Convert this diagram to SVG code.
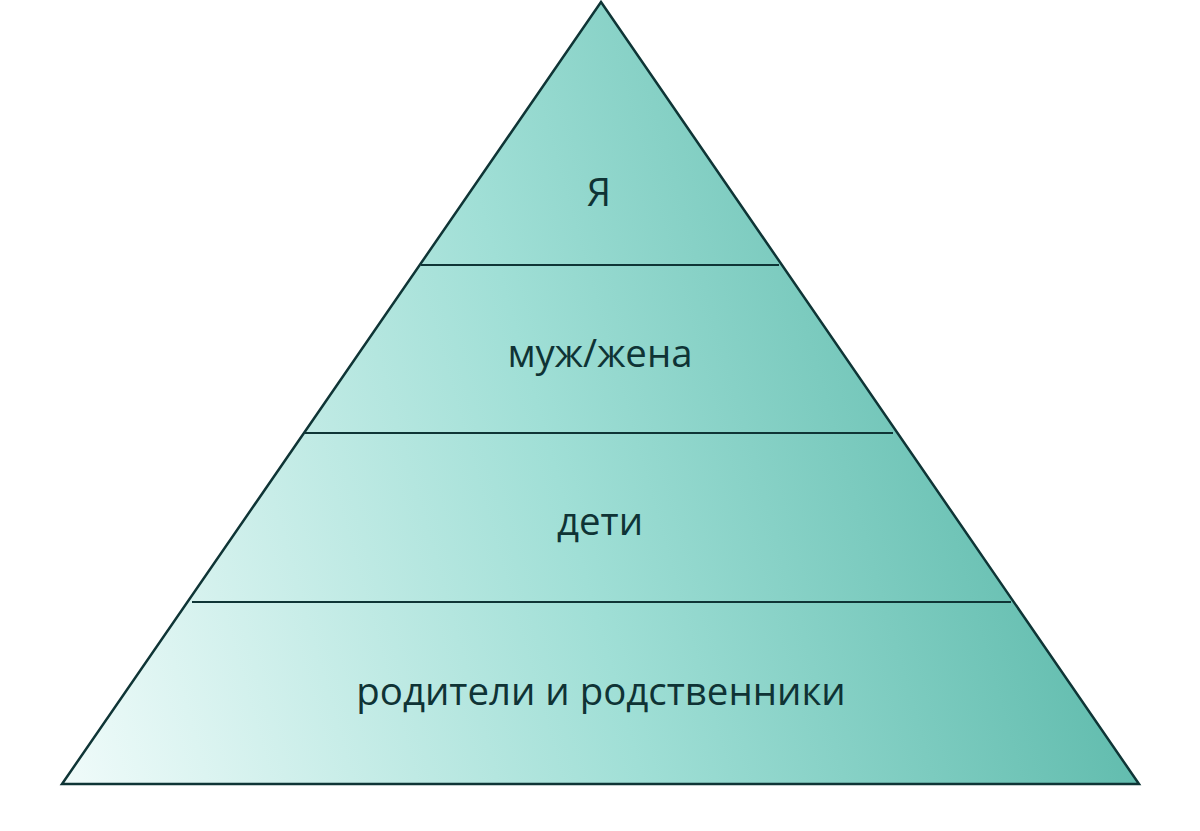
<svg xmlns="http://www.w3.org/2000/svg" width="1200" height="831" viewBox="0 0 1200 831">
<defs>
<linearGradient id="g" gradientUnits="userSpaceOnUse" x1="62" y1="784" x2="1139" y2="480">
<stop offset="0" stop-color="#f0fbfa"/>
<stop offset="0.5" stop-color="#a0dfd6"/>
<stop offset="1" stop-color="#58b7a8"/>
</linearGradient>
</defs>
<style>
.ln{stroke:#0f3536;stroke-width:2.2;fill:none}
.t{font-family:"Open Sans","Noto Sans",sans-serif;font-size:38.4px;fill:#0f3335;text-anchor:middle}
</style>
<rect width="1200" height="831" fill="#ffffff"/>
<g id="pyramid">
<polygon points="601,2 1139,784 62,784" fill="url(#g)" stroke="#0f3536" stroke-width="2.5" stroke-linejoin="miter"/>
</g>
<g id="dividers">
<line class="ln" x1="421" y1="265" x2="779" y2="265"/>
<line class="ln" x1="305" y1="433" x2="893" y2="433"/>
<line class="ln" x1="192" y1="602" x2="1011" y2="602"/>
</g>
<g id="level1"><text class="t" x="599" y="206">Я</text></g>
<g id="level2"><text class="t" x="600" y="367">муж/жена</text></g>
<g id="level3"><text class="t" x="600" y="535">дети</text></g>
<g id="level4"><text class="t" x="601" y="705">родители и родственники</text></g>
</svg>
